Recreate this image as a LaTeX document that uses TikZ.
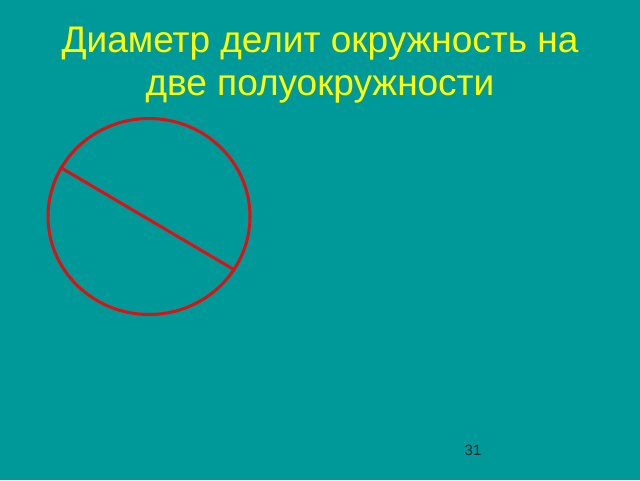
\documentclass[tikz,border=0pt]{standalone}
\usepackage{fontspec}
\setmainfont{Liberation Sans}
\usetikzlibrary{shapes.geometric}
\definecolor{slidebg}{HTML}{009999}
\definecolor{titleyellow}{HTML}{FFFF00}
\definecolor{linered}{HTML}{DD1111}
\begin{document}
\begin{tikzpicture}[x=1pt, y=-1pt,
  title/.style = {text=titleyellow, align=center, inner sep=0pt, font=\fontsize{37}{43}\selectfont},
  ring/.style = {draw=linered, line width=3pt, ellipse, inner sep=0pt, minimum width=202pt, minimum height=196pt}]
  \fill[slidebg] (0,0) rectangle (640,480);
  \useasboundingbox (0,0) rectangle (640,480);
  \node[title, anchor=north] (head) at (320,27) {Диаметр делит окружность на\\две полуокружности};
  \node[ring] (circ) at (149,216.5) {};
  \draw[linered, line width=3pt] (circ.151) -- (circ.328);
  \node[font=\fontsize{15}{17}\selectfont, text=black!85] (num) at (473,450) {31};
\end{tikzpicture}
\end{document}
